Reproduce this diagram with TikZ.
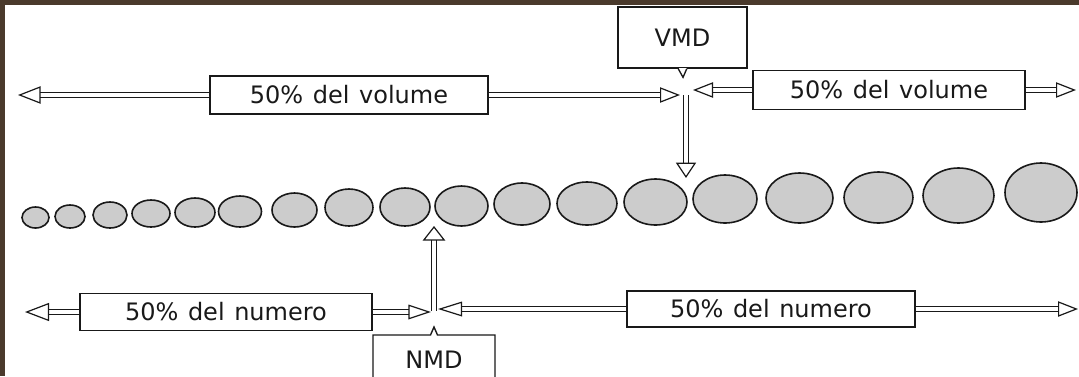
\documentclass[tikz,border=0pt]{standalone}
\usepackage{fontspec}
\setmainfont{DejaVu Sans}
\usetikzlibrary{arrows.meta}
\definecolor{frame}{RGB}{74,58,44}
\definecolor{ink}{RGB}{25,25,25}
\definecolor{dotfill}{RGB}{204,204,204}
\begin{document}
\begin{tikzpicture}[x=0.75pt,y=-0.75pt,
  box/.style={draw=ink, line width=1.05pt, fill=white, inner sep=0pt, text=ink,
    font=\fontsize{18}{20}\selectfont},
  label/.style={inner sep=0pt, text=ink, font=\fontsize{18}{20}\selectfont},
  outline/.style={draw=ink, line width=1.05pt},
  shaft/.style={draw=ink, line width=0.9pt, double=white, double distance=3.4pt},
  arr/.style 2 args={-{Triangle[open,length=#1,width=#2,line width=0.9pt]}},
  ball/.style={draw=ink, line width=1.2pt, fill=dotfill}]
\useasboundingbox (0,0) rectangle (1079,376);
\clip (0,0) rectangle (1079,376);
\fill[white] (0,0) rectangle (1079,376);
\fill[frame] (0,0) rectangle (1079,5);
\fill[frame] (0,0) rectangle (5,376);

% ---------- top row ----------
\node[box, minimum width=208.5pt, minimum height=28.5pt] (lv) at (349,95)
  {50\%\hspace{0.4em}del\hspace{0.4em}volume};
\node[box, minimum width=204pt, minimum height=29.25pt] (rv) at (889,90)
  {50\%\hspace{0.4em}del\hspace{0.4em}volume};
\node[box, minimum width=96.75pt, minimum height=45.75pt, text depth=-5pt] (vmd) at (682.5,37.5) {VMD};
\fill[white] ([xshift=-3pt]vmd.south) rectangle ([xshift=3pt,yshift=0.7pt]vmd.south);
\draw[ink, line width=1pt] ([xshift=-3.2pt]vmd.south) -- ([xshift=0.4pt,yshift=-6.5pt]vmd.south) -- ([xshift=3.2pt]vmd.south);

\coordinate (tl) at (18,95);
\coordinate (vjl) at (680,95);
\coordinate (vjr) at (693,90);
\coordinate (vtop) at (686,95);
\coordinate (vtip) at (686,178);
\coordinate (tr) at (1076,90);

\draw[shaft, arr={17pt}{13pt}] (lv.west) -- (tl);
\draw[shaft, arr={15pt}{11.5pt}] (lv.east) -- (vjl);
\draw[shaft, arr={15pt}{11.5pt}] (rv.west) -- (vjr);
\draw[shaft, arr={15pt}{11.5pt}] (rv.east) -- (tr);
\draw[shaft, arr={11.5pt}{15pt}] (vtop) -- (vtip);

% ---------- particles ----------
\foreach \cx/\rx/\cy/\ry in {
  35.5/13.5/217.5/10.5, 70/15/216.5/11.5, 110/17/215/13, 151/19/213.5/13.5,
  195/20/212.5/14.5, 240/21.5/211.5/15.5, 294.5/22.5/210/17, 349/24/207.5/18.5,
  405/25/207/19, 461.5/26.5/206/20, 522/28/204/21, 587/30/203.5/21.5,
  655.5/31.5/202/23, 725/32/199/24, 799.5/33.5/198/25, 878.5/34.5/197.5/25.5,
  958.5/35.5/195.5/27.5, 1041/36/192.5/29.5}
  \draw[ball] (\cx,\cy) ellipse [x radius=\rx, y radius=\ry];

% ---------- bottom row ----------
\node[box, minimum width=219pt, minimum height=27.75pt] (ln) at (226,312)
  {50\%\hspace{0.4em}del\hspace{0.4em}numero};
\node[box, minimum width=216pt, minimum height=27pt] (rn) at (771,309)
  {50\%\hspace{0.4em}del\hspace{0.4em}numero};
\node[label, anchor=base] (nmd) at (434,368) {NMD};
\draw[outline] (373,382) -- (373,335) -- (430.5,335) -- (434,327) -- (437.5,335)
  -- (495,335) -- (495,382);

\coordinate (bl) at (25,312);
\coordinate (njl) at (431,312);
\coordinate (njr) at (438,309);
\coordinate (nbot) at (434,311);
\coordinate (ntip) at (434,226);
\coordinate (br) at (1078,309);

\draw[shaft, arr={18pt}{13.5pt}] (ln.west) -- (bl);
\draw[shaft, arr={17pt}{11pt}] (ln.east) -- (njl);
\draw[shaft, arr={18pt}{11pt}] (rn.west) -- (njr);
\draw[shaft, arr={15pt}{11.5pt}] (rn.east) -- (br);
\draw[shaft, arr={11pt}{17pt}] (nbot) -- (ntip);
\end{tikzpicture}
\end{document}
